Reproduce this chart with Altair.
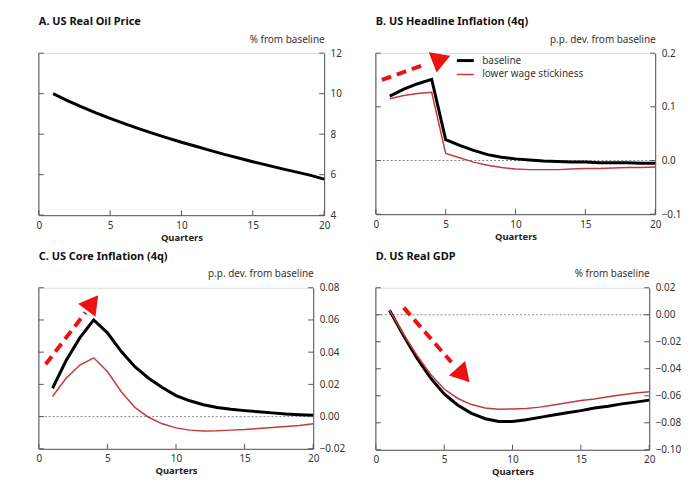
import altair as alt
import pandas as pd

FONT = "Noto Sans"

quarters = list(range(1, 21))
series_names = ["baseline", "lower wage stickiness"]
x_ticks = [0, 5, 10, 15, 20]

oil_baseline = [10.0, 9.66, 9.35, 9.05, 8.78, 8.52, 8.27, 8.04, 7.82, 7.6,
                7.4, 7.2, 7.0, 6.82, 6.64, 6.47, 6.3, 6.14, 5.98, 5.78]

headline_baseline = [0.120, 0.133, 0.143, 0.151, 0.039, 0.028, 0.019, 0.011, 0.006, 0.003,
                     0.001, -0.001, -0.002, -0.003, -0.003, -0.004, -0.004, -0.004, -0.005, -0.005]
headline_lower = [0.115, 0.121, 0.125, 0.127, 0.013, 0.005, -0.003, -0.009, -0.013, -0.016,
                  -0.017, -0.017, -0.017, -0.016, -0.015, -0.015, -0.014, -0.013, -0.013, -0.012]

core_baseline = [0.0176, 0.035, 0.049, 0.060, 0.052, 0.0405, 0.031, 0.0238, 0.018, 0.013,
                 0.0098, 0.0074, 0.0057, 0.0045, 0.0037, 0.003, 0.0023, 0.0016, 0.0012, 0.0008]
core_lower = [0.0125, 0.024, 0.032, 0.0365, 0.028, 0.0156, 0.0057, -0.0004, -0.0045, -0.007,
              -0.0084, -0.009, -0.0088, -0.0084, -0.008, -0.0074, -0.0068, -0.0061, -0.0055, -0.0045]

gdp_baseline = [0.0034, -0.015, -0.032, -0.0468, -0.0586, -0.067, -0.073, -0.077, -0.079, -0.079,
                -0.0777, -0.076, -0.0743, -0.0725, -0.071, -0.069, -0.0677, -0.066, -0.0647, -0.0632]
gdp_lower = [0.0034, -0.014, -0.030, -0.044, -0.055, -0.062, -0.0665, -0.069, -0.070, -0.0698,
             -0.0694, -0.0684, -0.0669, -0.0652, -0.0635, -0.0623, -0.0608, -0.0593, -0.058, -0.0571]

# annotation arrows: tail, end of dash, head centre (data units), head angle (deg)
arrow_b = {"x": [0.43, 3.63], "y": [0.15, 0.18], "hx": 4.7, "hy": 0.189, "angle": 69}
arrow_c = {"x": [0.5, 3.4], "y": [0.0325, 0.0646], "hx": 3.91, "hy": 0.0707, "angle": 37}
arrow_d = {"x": [2.04, 5.53], "y": [0.0053, -0.0352], "hx": 6.4, "hy": -0.0448, "angle": 138}

AX = "#555555"
LBL = "#333333"
RED_LINE = "#c23b3b"
ARROW = "#ee1111"
FS = 10


def panel(title, unit, ydom, yticks, yfmt, series, w, h, zero=False, legend=False, arrow=None):
    rows = []
    for name, vals in series:
        for q, v in zip(quarters, vals):
            rows.append({"q": q, "v": v, "s": name})
    df = pd.DataFrame(rows)

    xs = alt.Scale(domain=[0, 20], nice=False, zero=False)
    ys = alt.Scale(domain=ydom, nice=False, zero=False)

    x_axis = alt.Axis(values=x_ticks, title="Quarters", ticks=False, grid=False,
                      labelFlush=False, domainColor=AX, labelColor=LBL, labelFont=FONT,
                      labelFontSize=FS, labelPadding=5, titleFont=FONT, titleFontSize=9.5,
                      titleFontWeight="bold", titleColor="#222", titlePadding=2)
    y_axis = alt.Axis(orient="right", values=yticks, format=yfmt, title=unit, ticks=False,
                      grid=False, domainColor=AX, labelColor=LBL, labelFont=FONT,
                      labelFontSize=FS, labelPadding=6, labelFlush=False,
                      titleAngle=0, titleX=0, titleY=-14, titleAlign="right",
                      titleBaseline="middle", titleFont=FONT, titleFontSize=FS,
                      titleFontWeight="normal", titleColor=LBL)

    def X(field):
        return alt.X(field, scale=xs, axis=x_axis, title="Quarters")

    def Y(field):
        return alt.Y(field, scale=ys, axis=y_axis, title=unit)

    if legend:
        leg = alt.Legend(title=None, orient="none", legendX=83.5, legendY=1,
                         symbolType="M-1.7,0L1.7,0", symbolSize=100,
                         labelFont=FONT, labelFontSize=FS, labelColor=LBL,
                         labelOffset=10.5, rowPadding=1.5, padding=0)
    else:
        leg = None

    lines = alt.Chart(df).mark_line().encode(
        x=X("q:Q"),
        y=Y("v:Q"),
        color=alt.Color("s:N", scale=alt.Scale(domain=series_names, range=["#000000", RED_LINE]),
                        legend=leg),
        strokeWidth=alt.StrokeWidth("s:N", scale=alt.Scale(domain=series_names, range=[3, 1.5]),
                                    legend=leg),
    )

    layers = []
    if zero:
        layers.append(alt.Chart(pd.DataFrame({"z": [0]})).mark_rule(
            color="#888888", strokeDash=[2, 2], strokeWidth=1).encode(y=Y("z:Q")))
    layers.append(lines)

    # left frame line
    layers.append(alt.Chart(pd.DataFrame({"a": [0]})).mark_rule(color=AX).encode(
        x=alt.value(0), y=alt.value(0), y2=alt.value(h)))
    # inward ticks
    xt = pd.DataFrame({"t": x_ticks})
    layers.append(alt.Chart(xt).mark_rule(color=AX).encode(
        x=X("t:Q"), y=alt.value(h), y2=alt.value(h - 5)))
    yt = pd.DataFrame({"t": yticks})
    layers.append(alt.Chart(yt).mark_rule(color=AX).encode(
        y=Y("t:Q"), x=alt.value(0), x2=alt.value(5)))
    layers.append(alt.Chart(yt).mark_rule(color=AX).encode(
        y=Y("t:Q"), x=alt.value(w - 5), x2=alt.value(w)))

    if arrow is not None:
        ad = pd.DataFrame({"x": arrow["x"], "y": arrow["y"]})
        layers.append(alt.Chart(ad).mark_line(color=ARROW, strokeWidth=4, strokeDash=[10, 6]).encode(
            x=X("x:Q"), y=Y("y:Q")))
        hd = pd.DataFrame({"x": [arrow["hx"]], "y": [arrow["hy"]]})
        layers.append(alt.Chart(hd).mark_point(shape="triangle-up", filled=True, color=ARROW,
                                               size=480, opacity=1, angle=arrow["angle"]).encode(
            x=X("x:Q"), y=Y("y:Q")))

    return alt.layer(*layers).properties(
        width=w, height=h,
        title=alt.TitleParams(title, anchor="start", frame="group", font=FONT, fontSize=11,
                              fontWeight="bold", color="#111", offset=7),
    ).resolve_scale(color="independent", strokeWidth="independent")


pa = panel("A. US Real Oil Price", "% from baseline", [4, 12], [4, 6, 8, 10, 12], "d",
           [("baseline", oil_baseline)], 287, 163)
pb = panel("B. US Headline Inflation (4q)", "p.p. dev. from baseline", [-0.1, 0.2],
           [-0.1, 0.0, 0.1, 0.2], ".1f",
           [("baseline", headline_baseline), ("lower wage stickiness", headline_lower)],
           281, 162, zero=True, legend=True, arrow=arrow_b)
pc = panel("C. US Core Inflation (4q)", "p.p. dev. from baseline", [-0.02, 0.08],
           [-0.02, 0.0, 0.02, 0.04, 0.06, 0.08], ".2f",
           [("baseline", core_baseline), ("lower wage stickiness", core_lower)],
           276, 162, zero=True, arrow=arrow_c)
pd_ = panel("D. US Real GDP", "% from baseline", [-0.10, 0.02],
            [-0.10, -0.08, -0.06, -0.04, -0.02, 0.0, 0.02], ".2f",
            [("baseline", gdp_baseline), ("lower wage stickiness", gdp_lower)],
            275, 163, zero=True, arrow=arrow_d)

chart = alt.concat(pa, pb, pc, pd_, columns=2, spacing={"row": 73, "column": 52}).properties(
    bounds="flush",
    padding={"left": 27, "top": 6, "right": 5, "bottom": 5},
).resolve_scale(color="independent", strokeWidth="independent", x="independent", y="independent"
).configure_view(stroke="transparent").configure(background="white")

chart.save("out.html", embed_options={"renderer": "svg", "actions": False})
